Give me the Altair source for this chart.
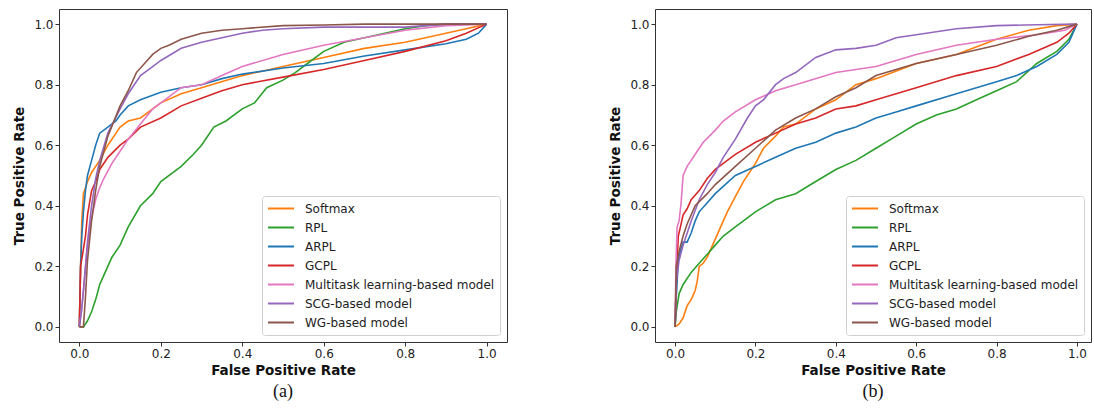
import altair as alt
import pandas as pd

models = ["Softmax", "RPL", "ARPL", "GCPL", "Multitask learning-based model",
          "SCG-based model", "WG-based model"]
colors = ["#ff7f0e", "#2ca02c", "#1f77b4", "#d62728", "#e377c2", "#9467bd", "#8c564b"]
ticks = [0.0, 0.2, 0.4, 0.6, 0.8, 1.0]

# ---- panel (a) ----
a_softmax_fpr = [0, 0.003, 0.006, 0.01, 0.02, 0.03, 0.05, 0.07, 0.09, 0.1, 0.12, 0.15, 0.2, 0.25, 0.3, 0.4, 0.5, 0.6, 0.7, 0.8, 0.9, 0.95, 1.0]
a_softmax_tpr = [0, 0.2, 0.35, 0.44, 0.48, 0.51, 0.55, 0.6, 0.64, 0.66, 0.68, 0.69, 0.74, 0.77, 0.79, 0.83, 0.86, 0.89, 0.92, 0.94, 0.97, 0.985, 1.0]
a_rpl_fpr = [0, 0.01, 0.02, 0.03, 0.04, 0.05, 0.06, 0.08, 0.1, 0.12, 0.15, 0.18, 0.2, 0.25, 0.28, 0.3, 0.33, 0.36, 0.4, 0.43, 0.46, 0.5, 0.53, 0.56, 0.6, 0.65, 0.7, 0.75, 0.8, 0.85, 0.9, 1.0]
a_rpl_tpr = [0, 0.0, 0.02, 0.05, 0.09, 0.14, 0.17, 0.23, 0.27, 0.33, 0.40, 0.44, 0.48, 0.53, 0.57, 0.60, 0.66, 0.68, 0.72, 0.74, 0.79, 0.815, 0.84, 0.87, 0.91, 0.94, 0.955, 0.97, 0.985, 0.995, 1.0, 1.0]
a_arpl_fpr = [0, 0.003, 0.006, 0.01, 0.015, 0.02, 0.03, 0.04, 0.05, 0.07, 0.09, 0.1, 0.12, 0.15, 0.2, 0.25, 0.3, 0.35, 0.4, 0.5, 0.6, 0.7, 0.8, 0.9, 0.95, 0.98, 1.0]
a_arpl_tpr = [0, 0.2, 0.3, 0.38, 0.45, 0.5, 0.55, 0.6, 0.64, 0.66, 0.68, 0.70, 0.73, 0.75, 0.775, 0.79, 0.80, 0.82, 0.835, 0.855, 0.87, 0.895, 0.915, 0.935, 0.95, 0.97, 1.0]
a_gcpl_fpr = [0, 0.003, 0.008, 0.015, 0.02, 0.03, 0.04, 0.05, 0.07, 0.1, 0.12, 0.15, 0.2, 0.25, 0.3, 0.35, 0.4, 0.5, 0.6, 0.7, 0.8, 0.9, 0.95, 1.0]
a_gcpl_tpr = [0, 0.2, 0.24, 0.3, 0.37, 0.45, 0.48, 0.52, 0.56, 0.6, 0.62, 0.66, 0.69, 0.73, 0.755, 0.78, 0.80, 0.825, 0.85, 0.88, 0.91, 0.945, 0.97, 1.0]
a_multi_fpr = [0, 0.005, 0.01, 0.02, 0.03, 0.04, 0.05, 0.06, 0.08, 0.1, 0.12, 0.15, 0.18, 0.2, 0.25, 0.3, 0.35, 0.4, 0.5, 0.6, 0.7, 0.8, 0.9, 1.0]
a_multi_tpr = [0, 0.05, 0.12, 0.27, 0.36, 0.42, 0.46, 0.49, 0.54, 0.58, 0.62, 0.67, 0.72, 0.74, 0.79, 0.80, 0.83, 0.86, 0.90, 0.93, 0.955, 0.98, 0.995, 1.0]
a_scg_fpr = [0, 0.005, 0.01, 0.02, 0.03, 0.04, 0.05, 0.07, 0.1, 0.12, 0.15, 0.18, 0.2, 0.25, 0.3, 0.35, 0.4, 0.45, 0.5, 0.6, 0.8, 0.9, 1.0]
a_scg_tpr = [0, 0.05, 0.12, 0.28, 0.4, 0.49, 0.55, 0.64, 0.72, 0.77, 0.83, 0.86, 0.88, 0.92, 0.94, 0.955, 0.97, 0.98, 0.985, 0.99, 0.99, 1.0, 1.0]
a_wg_fpr = [0, 0.01, 0.015, 0.02, 0.03, 0.04, 0.05, 0.07, 0.1, 0.12, 0.14, 0.16, 0.18, 0.2, 0.22, 0.25, 0.3, 0.35, 0.4, 0.5, 0.6, 0.7, 1.0]
a_wg_tpr = [0, 0.0, 0.1, 0.22, 0.35, 0.45, 0.53, 0.63, 0.73, 0.78, 0.84, 0.87, 0.9, 0.92, 0.93, 0.95, 0.97, 0.98, 0.985, 0.995, 0.997, 1.0, 1.0]

# ---- panel (b) ----
b_softmax_fpr = [0, 0.01, 0.02, 0.03, 0.04, 0.05, 0.055, 0.06, 0.07, 0.08, 0.1, 0.12, 0.13, 0.15, 0.17, 0.2, 0.22, 0.25, 0.27, 0.3, 0.35, 0.4, 0.45, 0.5, 0.6, 0.7, 0.8, 0.88, 0.95, 1.0]
b_softmax_tpr = [0, 0.01, 0.03, 0.07, 0.09, 0.12, 0.15, 0.2, 0.21, 0.23, 0.29, 0.35, 0.38, 0.43, 0.48, 0.54, 0.59, 0.63, 0.66, 0.67, 0.72, 0.75, 0.80, 0.82, 0.87, 0.90, 0.95, 0.98, 0.995, 1.0]
b_rpl_fpr = [0, 0.003, 0.01, 0.02, 0.04, 0.06, 0.08, 0.1, 0.12, 0.15, 0.2, 0.25, 0.3, 0.35, 0.4, 0.45, 0.5, 0.55, 0.6, 0.65, 0.7, 0.75, 0.8, 0.85, 0.9, 0.95, 0.98, 1.0]
b_rpl_tpr = [0, 0.05, 0.11, 0.14, 0.18, 0.21, 0.24, 0.27, 0.30, 0.33, 0.38, 0.42, 0.44, 0.48, 0.52, 0.55, 0.59, 0.63, 0.67, 0.70, 0.72, 0.75, 0.78, 0.81, 0.87, 0.91, 0.95, 1.0]
b_arpl_fpr = [0, 0.003, 0.008, 0.015, 0.02, 0.03, 0.04, 0.05, 0.06, 0.08, 0.1, 0.15, 0.2, 0.25, 0.3, 0.35, 0.4, 0.45, 0.5, 0.55, 0.6, 0.7, 0.8, 0.85, 0.9, 0.95, 0.98, 1.0]
b_arpl_tpr = [0, 0.1, 0.22, 0.26, 0.28, 0.28, 0.31, 0.35, 0.38, 0.41, 0.44, 0.50, 0.53, 0.56, 0.59, 0.61, 0.64, 0.66, 0.69, 0.71, 0.73, 0.77, 0.81, 0.83, 0.86, 0.9, 0.94, 1.0]
b_gcpl_fpr = [0, 0.003, 0.008, 0.015, 0.02, 0.03, 0.04, 0.06, 0.08, 0.1, 0.12, 0.15, 0.2, 0.25, 0.3, 0.35, 0.4, 0.45, 0.5, 0.6, 0.7, 0.8, 0.88, 0.95, 0.98, 1.0]
b_gcpl_tpr = [0, 0.15, 0.3, 0.34, 0.37, 0.39, 0.42, 0.45, 0.49, 0.52, 0.54, 0.57, 0.61, 0.64, 0.67, 0.69, 0.72, 0.73, 0.75, 0.79, 0.83, 0.86, 0.9, 0.94, 0.97, 1.0]
b_multi_fpr = [0, 0.002, 0.005, 0.01, 0.015, 0.02, 0.03, 0.04, 0.05, 0.07, 0.1, 0.12, 0.15, 0.2, 0.25, 0.3, 0.4, 0.5, 0.6, 0.7, 0.8, 0.9, 0.97, 1.0]
b_multi_tpr = [0, 0.2, 0.33, 0.35, 0.41, 0.50, 0.53, 0.55, 0.57, 0.61, 0.65, 0.68, 0.71, 0.75, 0.78, 0.80, 0.84, 0.86, 0.90, 0.93, 0.95, 0.965, 0.98, 1.0]
b_scg_fpr = [0, 0.003, 0.01, 0.02, 0.04, 0.06, 0.08, 0.1, 0.12, 0.15, 0.18, 0.2, 0.22, 0.25, 0.27, 0.3, 0.35, 0.4, 0.45, 0.5, 0.55, 0.6, 0.7, 0.8, 0.9, 1.0]
b_scg_tpr = [0, 0.15, 0.22, 0.27, 0.35, 0.42, 0.47, 0.51, 0.56, 0.62, 0.69, 0.73, 0.75, 0.80, 0.82, 0.84, 0.89, 0.915, 0.92, 0.93, 0.955, 0.965, 0.985, 0.995, 0.998, 1.0]
b_wg_fpr = [0, 0.003, 0.01, 0.02, 0.03, 0.05, 0.08, 0.1, 0.15, 0.2, 0.25, 0.3, 0.35, 0.4, 0.45, 0.5, 0.6, 0.7, 0.8, 0.88, 0.95, 1.0]
b_wg_tpr = [0, 0.2, 0.25, 0.3, 0.34, 0.40, 0.44, 0.47, 0.53, 0.59, 0.65, 0.69, 0.72, 0.76, 0.79, 0.83, 0.87, 0.90, 0.93, 0.96, 0.98, 1.0]

panel_a = [(a_softmax_fpr, a_softmax_tpr), (a_rpl_fpr, a_rpl_tpr), (a_arpl_fpr, a_arpl_tpr),
           (a_gcpl_fpr, a_gcpl_tpr), (a_multi_fpr, a_multi_tpr), (a_scg_fpr, a_scg_tpr),
           (a_wg_fpr, a_wg_tpr)]
panel_b = [(b_softmax_fpr, b_softmax_tpr), (b_rpl_fpr, b_rpl_tpr), (b_arpl_fpr, b_arpl_tpr),
           (b_gcpl_fpr, b_gcpl_tpr), (b_multi_fpr, b_multi_tpr), (b_scg_fpr, b_scg_tpr),
           (b_wg_fpr, b_wg_tpr)]


def to_df(panel):
    rows = []
    for m, (fx, ty) in zip(models, panel):
        for i, (f, t) in enumerate(zip(fx, ty)):
            rows.append({"model": m, "fpr": f, "tpr": t, "idx": i})
    return pd.DataFrame(rows)


FONT = "DejaVu Sans"


def roc_chart(df, caption, width, xmax):
    return alt.Chart(df).mark_line(strokeWidth=1.6, clip=True).encode(
        x=alt.X("fpr:Q", title="False Positive Rate",
                scale=alt.Scale(domain=[-0.05, xmax], nice=False, zero=False),
                axis=alt.Axis(values=ticks, format=".1f", grid=False, domain=False,
                              tickSize=4, tickColor="#333", labelPadding=2,
                              labelFontSize=12, labelFont=FONT, labelColor="#222",
                              titleFont=FONT, titleFontSize=13.5, titleFontWeight="bold",
                              titleColor="#111", titlePadding=4, labelFlush=False)),
        y=alt.Y("tpr:Q", title="True Positive Rate",
                scale=alt.Scale(domain=[-0.05, 1.05], nice=False, zero=False),
                axis=alt.Axis(values=ticks, format=".1f", grid=False, domain=False,
                              tickSize=4, tickColor="#333", labelPadding=2,
                              labelFontSize=12, labelFont=FONT, labelColor="#222",
                              titleFont=FONT, titleFontSize=13.5, titleFontWeight="bold",
                              titleColor="#111", titlePadding=7, labelFlush=False)),
        color=alt.Color("model:N", sort=models,
                        scale=alt.Scale(domain=models, range=colors),
                        legend=alt.Legend(title=None, orient="bottom-right", offset=7,
                                          symbolType="stroke", symbolSize=676,
                                          symbolStrokeWidth=2, clipHeight=15,
                                          rowPadding=4, labelOffset=10,
                                          labelFont=FONT, labelFontSize=12,
                                          labelColor="#222", labelLimit=400,
                                          strokeColor="#d0d0d0", fillColor="white",
                                          cornerRadius=3, padding=5)),
        order=alt.Order("idx:Q"),
    ).properties(
        width=width, height=333,
        title=alt.TitleParams(caption, orient="bottom", anchor="middle", frame="group",
                              font="Liberation Serif", fontSize=18, fontWeight="normal",
                              color="#111", offset=6),
    )


chart_a = roc_chart(to_df(panel_a), "(a)", 448, 1.05)
chart_b = roc_chart(to_df(panel_b), "(b)", 436, 1.035)

chart = alt.hconcat(chart_a, chart_b, spacing=100).resolve_legend(
    color="independent"
).properties(
    padding={"left": 12, "top": 8, "right": 0, "bottom": 0}
).configure_view(stroke="#333", strokeWidth=1)

chart.save("out.html", embed_options={"renderer": "svg", "actions": False})
